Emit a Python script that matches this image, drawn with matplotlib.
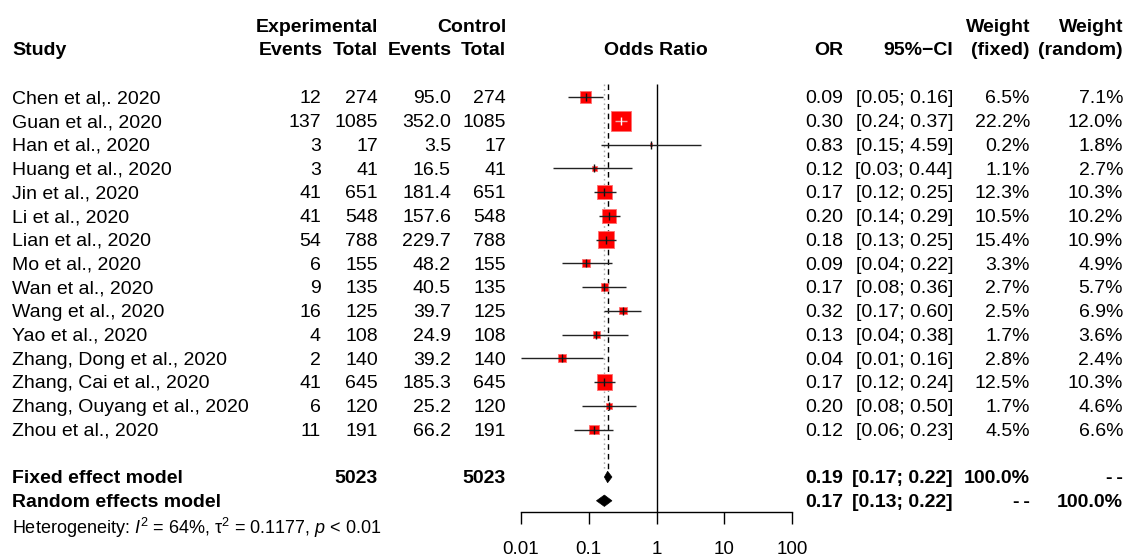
import numpy as np
import matplotlib
matplotlib.use("Agg")
import matplotlib.pyplot as plt
from matplotlib.patches import Polygon

plt.rcParams['font.family'] = ['Liberation Sans', 'DejaVu Sans']
plt.rcParams['mathtext.fontset'] = 'custom'
plt.rcParams['mathtext.rm'] = 'Liberation Sans'
plt.rcParams['mathtext.it'] = 'Liberation Sans:italic'

# ---------------- data ----------------
studies = ["Chen et al,. 2020", "Guan et al., 2020", "Han et al., 2020", "Huang et al., 2020",
           "Jin et al., 2020", "Li et al., 2020", "Lian et al., 2020", "Mo et al., 2020",
           "Wan et al., 2020", "Wang et al., 2020", "Yao et al., 2020", "Zhang, Dong et al., 2020",
           "Zhang, Cai et al., 2020", "Zhang, Ouyang et al., 2020", "Zhou et al., 2020"]
exp_events = [12, 137, 3, 3, 41, 41, 54, 6, 9, 16, 4, 2, 41, 6, 11]
exp_total = [274, 1085, 17, 41, 651, 548, 788, 155, 135, 125, 108, 140, 645, 120, 191]
ctrl_events = [95.0, 352.0, 3.5, 16.5, 181.4, 157.6, 229.7, 48.2, 40.5, 39.7, 24.9, 39.2, 185.3, 25.2, 66.2]
ctrl_total = [274, 1085, 17, 41, 651, 548, 788, 155, 135, 125, 108, 140, 645, 120, 191]
odds = [0.09, 0.30, 0.83, 0.12, 0.17, 0.20, 0.18, 0.09, 0.17, 0.32, 0.13, 0.04, 0.17, 0.20, 0.12]
ci_low = [0.05, 0.24, 0.15, 0.03, 0.12, 0.14, 0.13, 0.04, 0.08, 0.17, 0.04, 0.01, 0.12, 0.08, 0.06]
ci_high = [0.16, 0.37, 4.59, 0.44, 0.25, 0.29, 0.25, 0.22, 0.36, 0.60, 0.38, 0.16, 0.24, 0.50, 0.23]
w_fixed = [6.5, 22.2, 0.2, 1.1, 12.3, 10.5, 15.4, 3.3, 2.7, 2.5, 1.7, 2.8, 12.5, 1.7, 4.5]
w_random = [7.1, 12.0, 1.8, 2.7, 10.3, 10.2, 10.9, 4.9, 5.7, 6.9, 3.6, 2.4, 10.3, 4.6, 6.6]

fixed_or, fixed_low, fixed_high = 0.19, 0.17, 0.22
random_or, random_low, random_high = 0.17, 0.13, 0.22
total_exp, total_ctrl = 5023, 5023
tick_vals = [0.01, 0.1, 1, 10, 100]
tick_labels = ["0.01", "0.1", "1", "10", "100"]
DASHES = "-\u2009-"

# ---------------- layout ----------------
W, H = 1129, 558
ROW0, DY = 97.0, 23.75          # pixel y of first row and row spacing
def row_of(px):
    return (px - ROW0) / DY

FS = 14
fig = plt.figure(figsize=(W / 100, H / 100), dpi=100)
ax = fig.add_axes([0, 0, 1, 1])
ax.set_xlim(0, W)
ax.set_ylim(row_of(H), row_of(0))
ax.axis('off')

n = len(studies)
rows = np.arange(n)
r_fixed, r_random, r_het = n + 1, n + 2, n + 3

VA = 'center_baseline'
# headers
hdr1, hdr2 = row_of(25), row_of(49)
bold = dict(fontsize=FS, fontweight='bold', va=VA)
ax.text(12, hdr2, "Study", ha='left', **bold)
ax.text(378, hdr1, "Experimental", ha='right', **bold)
ax.text(506, hdr1, "Control", ha='right', **bold)
ax.text(323, hdr2, "Events", ha='right', **bold)
ax.text(378, hdr2, "Total", ha='right', **bold)
ax.text(452, hdr2, "Events", ha='right', **bold)
ax.text(506, hdr2, "Total", ha='right', **bold)
ax.text(656, hdr2, "Odds Ratio", ha='center', **bold)
ax.text(843, hdr2, "OR", ha='right', **bold)
ax.text(953, hdr2, "95%\u2212CI", ha='right', **bold)
ax.text(1030, hdr1, "Weight", ha='right', **bold)
ax.text(1030, hdr2, "(fixed)", ha='right', **bold)
ax.text(1123, hdr1, "Weight", ha='right', **bold)
ax.text(1123, hdr2, "(random)", ha='right', **bold)

reg = dict(fontsize=FS, va=VA)
for i in range(n):
    y = rows[i]
    ax.text(12, y, studies[i], ha='left', **reg)
    ax.text(321, y, f"{exp_events[i]}", ha='right', **reg)
    ax.text(378, y, f"{exp_total[i]}", ha='right', **reg)
    ax.text(451, y, f"{ctrl_events[i]:.1f}", ha='right', **reg)
    ax.text(506, y, f"{ctrl_total[i]}", ha='right', **reg)
    ax.text(843, y, f"{odds[i]:.2f}", ha='right', **reg)
    ax.text(953, y, f"[{ci_low[i]:.2f}; {ci_high[i]:.2f}]", ha='right', **reg)
    ax.text(1030, y, f"{w_fixed[i]:.1f}%", ha='right', **reg)
    ax.text(1123, y, f"{w_random[i]:.1f}%", ha='right', **reg)

ax.text(12, r_fixed, "Fixed effect model", ha='left', **bold)
ax.text(378, r_fixed, f"{total_exp}", ha='right', **bold)
ax.text(506, r_fixed, f"{total_ctrl}", ha='right', **bold)
ax.text(843, r_fixed, f"{fixed_or:.2f}", ha='right', **bold)
ax.text(953, r_fixed, f"[{fixed_low:.2f}; {fixed_high:.2f}]", ha='right', **bold)
ax.text(1030, r_fixed, "100.0%", ha='right', **bold)
ax.text(1123, r_fixed, DASHES, ha='right', **bold)

ax.text(12, r_random, "Random effects model", ha='left', **bold)
ax.text(843, r_random, f"{random_or:.2f}", ha='right', **bold)
ax.text(953, r_random, f"[{random_low:.2f}; {random_high:.2f}]", ha='right', **bold)
ax.text(1030, r_random, DASHES, ha='right', **bold)
ax.text(1123, r_random, "100.0%", ha='right', **bold)

ax.text(12, r_het, r"Heterogeneity: $\mathit{I}^{2}$ = 64%, τ$^{2}$ = 0.1177, $\mathit{p}$ < 0.01",
        ha='left', va=VA, fontsize=13)

# ---------------- forest axes ----------------
X0, X1, YB = 521, 792, 512
fx = fig.add_axes([X0 / W, (H - YB) / H, (X1 - X0) / W, YB / H])
fx.set_xscale('log')
fx.set_xlim(0.01, 100)
fx.set_ylim(row_of(YB), row_of(0))
fx.patch.set_alpha(0)
for s in ['top', 'left', 'right']:
    fx.spines[s].set_visible(False)
fx.spines['bottom'].set_linewidth(1.0)
fx.set_yticks([])
fx.set_xticks(tick_vals)
fx.set_xticklabels(tick_labels, fontsize=13.5)
fx.minorticks_off()
fx.tick_params(axis='x', direction='out', length=8.6, width=1.0, pad=12)

px_per_dec = (X1 - X0) / 4.0
top_line = row_of(84)
fx.vlines(1, top_line, row_of(YB), color='black', lw=1.0)
fx.vlines(fixed_or, top_line, r_fixed - 0.3, color='black', lw=1.0, linestyles=(0, (4, 3)))
fx.vlines(random_or, top_line, r_fixed - 0.3, color='#aaaaaa', lw=1.0, linestyles=(0, (1.2, 2.2)))

side_px = 19.0 * np.sqrt(np.array(w_fixed) / max(w_fixed))
fx.scatter(odds, rows, marker='s', s=(side_px * 0.72 + 0.6) ** 2, color='red',
           edgecolors='#ff7070', linewidths=0.6, zorder=3)
for i in range(n):
    half_dec = side_px[i] / 2 / px_per_dec
    inside = (np.log10(ci_high[i]) - np.log10(odds[i]) < half_dec and
              np.log10(odds[i]) - np.log10(ci_low[i]) < half_dec)
    c = '#f4b0b0' if inside else '#222222'
    fx.plot([ci_low[i], ci_high[i]], [rows[i], rows[i]], color=c, lw=1.0, zorder=4, solid_capstyle='butt')
    fx.plot([odds[i]], [rows[i]], marker='|', ms=6, mew=1.0, color='white' if inside else '#111111', zorder=5)

for (est, lo, hi, r) in [(fixed_or, fixed_low, fixed_high, r_fixed),
                         (random_or, random_low, random_high, r_random)]:
    h = 0.24
    fx.add_patch(Polygon([(lo, r), (est, r - h), (hi, r), (est, r + h)], closed=True,
                         facecolor='black', edgecolor='black', lw=0.5, zorder=5))

fig.savefig("out.png", dpi=100)
